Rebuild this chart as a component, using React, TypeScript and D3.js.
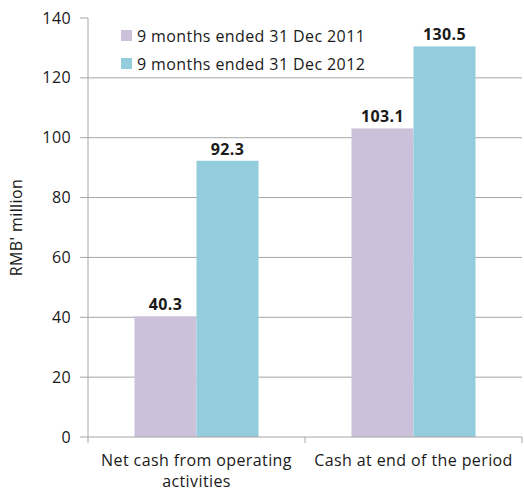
import React from "react";
import * as d3 from "d3";

const categories = ["Net cash from operating activities", "Cash at end of the period"];
const categoryLines = [["Net cash from operating", "activities"], ["Cash at end of the period"]];
const seriesNames = ["9 months ended 31 Dec 2011", "9 months ended 31 Dec 2012"];
const values2011 = [40.3, 103.1];
const values2012 = [92.3, 130.5];
const yTicks = [0, 20, 40, 60, 80, 100, 120, 140];

const colors = ["#CCC1DA", "#93CDDD"];
const font = "'Open Sans', 'Noto Sans', sans-serif";

const App = () => {
  const width = 524;
  const height = 491;
  const margin = { top: 18, right: 2, bottom: 54, left: 88 };
  const innerW = width - margin.left - margin.right;
  const innerH = height - margin.top - margin.bottom;

  const x = d3.scaleBand().domain(categories).range([0, innerW]).paddingInner(0).paddingOuter(0);
  const inner = d3
    .scaleBand()
    .domain(seriesNames)
    .range([0, x.bandwidth()])
    .paddingInner(0)
    .paddingOuter(0.75);
  const y = d3.scaleLinear().domain([0, 140]).range([innerH, 0]);

  const series = [values2011, values2012];

  return (
    <svg width={width} height={height} style={{ position: "absolute", left: 0, top: 0 }}>
      <rect width={width} height={height} fill="#fff" />
      <g transform={`translate(${margin.left},${margin.top})`} fontFamily={font} letterSpacing={0.4}>
        {yTicks
          .filter((t) => t > 0 && t < 140)
          .map((t) => (
            <line key={"g" + t} x1={0} x2={innerW} y1={y(t)} y2={y(t)} stroke="#a6a6a6" strokeWidth={1} />
          ))}
        {series.map((vals, si) =>
          vals.map((v, ci) => (
            <g key={`b${si}-${ci}`}>
              <rect
                x={x(categories[ci])! + inner(seriesNames[si])!}
                y={y(v)}
                width={inner.bandwidth()}
                height={innerH - y(v)}
                fill={colors[si]}
              />
              <text
                x={x(categories[ci])! + inner(seriesNames[si])! + inner.bandwidth() / 2}
                y={y(v) - 6}
                textAnchor="middle"
                fontSize={16}
                fontWeight="bold"
                fill="#1a1a1a"
              >
                {v.toFixed(1)}
              </text>
            </g>
          ))
        )}
        {/* y axis */}
        <line x1={0} x2={0} y1={0} y2={innerH} stroke="#a6a6a6" />
        {yTicks.map((t) => (
          <g key={"t" + t}>
            <line x1={-8} x2={0} y1={y(t)} y2={y(t)} stroke="#a6a6a6" />
            <text x={-17} y={y(t)} dy="0.35em" textAnchor="end" fontSize={16} fill="#1a1a1a">
              {t}
            </text>
          </g>
        ))}
        {/* x axis */}
        <line x1={0} x2={innerW} y1={innerH} y2={innerH} stroke="#a6a6a6" />
        {[0, 1, 2].map((i) => (
          <line
            key={"xt" + i}
            x1={i * x.step()}
            x2={i * x.step()}
            y1={innerH}
            y2={innerH + 6}
            stroke="#a6a6a6"
          />
        ))}
        {categories.map((c, ci) =>
          categoryLines[ci].map((ln, li) => (
            <text
              key={c + li}
              x={x(c)! + x.bandwidth() / 2}
              y={innerH + 29 + li * 21}
              textAnchor="middle"
              fontSize={16}
              fill="#1a1a1a"
            >
              {ln}
            </text>
          ))
        )}
        <text
          transform={`translate(${-66},${innerH / 2}) rotate(-90)`}
          textAnchor="middle"
          fontSize={16}
          fill="#1a1a1a"
        >
          RMB' million
        </text>
        {/* legend */}
        {seriesNames.map((s, i) => (
          <g key={s} transform={`translate(${33},${12 + i * 28})`}>
            <rect x={0} y={0} width={11} height={11} fill={colors[i]} />
            <text x={16} y={6} dy="0.35em" fontSize={16} fill="#1a1a1a">
              {s}
            </text>
          </g>
        ))}
      </g>
    </svg>
  );
};

export default App;
